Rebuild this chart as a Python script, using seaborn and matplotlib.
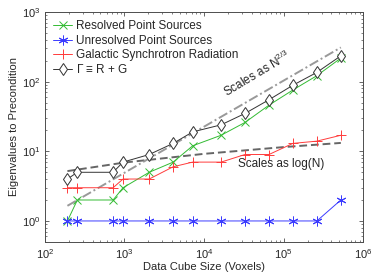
import numpy as np
import pandas as pd
import matplotlib
matplotlib.use("Agg")
import matplotlib.pyplot as plt
import seaborn as sns

# data cube sizes (voxels)
sizes = [192, 256, 720, 960, 2048, 4096, 7200, 16384, 32768, 65536, 131072, 262144, 524288]
resolved = [1, 2, 2, 3, 5, 7, 12, 17, 26, 46, 76, 122, 218]
unresolved = [1, 1, 1, 1, 1, 1, 1, 1, 1, 1, 1, 1, 2]
galactic = [3, 3, 3, 4, 4, 6, 7, 7, 9, 9, 13, 14, 17]
gamma = [4, 5, 5, 7, 9, 13, 19, 24, 35, 55, 89, 136, 235]

# guide lines
log_x = [192, 1000, 10000, 100000, 524288]
log_y = [5.2, 6.9, 9.2, 11.5, 13.2]
pow_x = [192, 524288]
pow_y = [1.65, 310]

sns.set_theme(style="ticks")
plt.rcParams['font.family'] = ['Liberation Sans', 'DejaVu Sans']
plt.rcParams['mathtext.fontset'] = 'custom'
plt.rcParams['mathtext.rm'] = 'Liberation Sans'
plt.rcParams['mathtext.it'] = 'Liberation Sans'

df = pd.DataFrame({'N': sizes, 'R': resolved, 'U': unresolved, 'G': galactic, 'T': gamma})

fig = plt.figure(figsize=(3.74, 2.8), dpi=100)
ax = fig.add_axes([0.12, 0.136, 0.851, 0.821])

sns.lineplot(x=log_x, y=log_y, ax=ax, color='0.4', lw=1.4, ls=(0, (4, 2)))
sns.lineplot(x=pow_x, y=pow_y, ax=ax, color='0.6', lw=1.4, ls=(0, (5, 1.5, 1, 1.5)))

series = [
    ('R', 'Resolved Point Sources', '#33bb33', 'x', 5.5, 'none'),
    ('U', 'Unresolved Point Sources', '#3c3cff', (6, 2, 0), 7, 'none'),
    ('G', 'Galactic Synchrotron Radiation', '#ff3c3c', '+', 7, 'none'),
    ('T', r'$\Gamma$ ≡ R + G', '#333333', 'd', 6, 'white'),
]
handles = []
for col, lab, c, m, ms, fc in series:
    n0 = len(ax.lines)
    sns.lineplot(data=df, x='N', y=col, ax=ax, color=c, lw=0.7, marker=m, ms=ms,
                 mew=0.7, mec=c, mfc=fc, legend=False)
    ln = ax.lines[n0]
    ln.set_label(lab)
    handles.append(ln)

ax.set_xscale('log')
ax.set_yscale('log')
ax.set_xlim(100, 1e6)
ax.set_ylim(0.5, 1000)
ax.set_xlabel('Data Cube Size (Voxels)', fontsize=8, labelpad=1)
ax.set_ylabel('Eigenvalues to Precondition', fontsize=8, labelpad=2)
ax.tick_params(which='both', direction='in', top=True, right=True, labelsize=8, color='0.3')
ax.tick_params(which='major', length=3, width=0.6)
ax.tick_params(which='minor', length=1.5, width=0.5)
for s in ax.spines.values():
    s.set_linewidth(0.7)
    s.set_color('0.3')

ax.text(4.6e4, 128, r'Scales as N$^{2/3}$', fontsize=8.5, rotation=31, ha='center', va='center')
ax.text(9.4e4, 6.5, 'Scales as log(N)', fontsize=8.5, ha='center', va='center')

ax.legend(handles=handles, loc='upper left', frameon=False, fontsize=8.5, handlelength=1.6,
          handletextpad=0.3, labelspacing=0.2, borderaxespad=0.3)

fig.savefig('out.png', dpi=100)
